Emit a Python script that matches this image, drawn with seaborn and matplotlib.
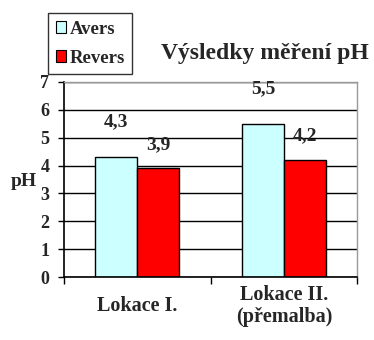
import pandas as pd
import seaborn as sns
import matplotlib.pyplot as plt

locations = ['Lokace I.', 'Lokace II.\n(přemalba)']
series = ['Avers', 'Revers']
avers = [4.3, 5.5]
revers = [3.9, 4.2]
colors = ['#CCFFFF', '#FF0000']

data = pd.DataFrame({
    'lokace': locations * 2,
    'strana': [series[0]] * 2 + [series[1]] * 2,
    'pH': avers + revers,
})

sns.set_style('white')
plt.rcParams['font.family'] = ['Liberation Serif', 'DejaVu Serif']
plt.rcParams['font.weight'] = 'bold'

fig = plt.figure(figsize=(3.74, 3.40), dpi=100)
ax = fig.add_axes([0.171, 0.185, 0.784, 0.574])

sns.barplot(data=data, x='lokace', y='pH', hue='strana', palette=colors,
            saturation=1, width=0.57, gap=0, edgecolor='black', linewidth=1,
            ax=ax, legend=False)

# value labels with comma decimal separator
offsets = {0: 35, 1: 24}
for i, cont in enumerate(ax.containers):
    for bar in cont:
        h = bar.get_height()
        ax.annotate(f'{h:.1f}'.replace('.', ','),
                    (bar.get_x() + bar.get_width() / 2, h),
                    xytext=(0, offsets[i]), textcoords='offset pixels',
                    ha='center', va='center', fontsize=14, fontweight='bold')

ax.set_ylim(0, 7)
ax.set_xlim(-0.5, 1.5)
ax.set_yticks(range(8))
ax.yaxis.grid(True, color='black', linewidth=1)
ax.set_axisbelow(True)
ax.tick_params(axis='y', length=4.5, width=1, color='black', labelsize=13, pad=6, left=True)
ax.set_xticks([0, 1])
ax.set_xticklabels(locations, fontsize=14.5, fontweight='bold', va='center',
                   linespacing=1.12)
ax.tick_params(axis='x', which='major', length=0, pad=21)
ax.set_xticks([-0.5, 0.5, 1.5], minor=True)
ax.tick_params(axis='x', which='minor', length=5, width=1, color='black', bottom=True)
for lbl in ax.get_yticklabels():
    lbl.set_fontweight('bold')

for side in ['left', 'bottom']:
    ax.spines[side].set_color('black')
    ax.spines[side].set_linewidth(1.2)
for side in ['top', 'right']:
    ax.spines[side].set_visible(True)
    ax.spines[side].set_color('#999999')
    ax.spines[side].set_linewidth(1)

ax.set_xlabel('')
ax.set_ylabel('')
fig.text(24 / 374, 1 - 182 / 340, 'pH', ha='center', va='center',
         fontsize=14, fontweight='bold')

fig.text(265 / 374, 1 - 53 / 340, 'Výsledky měření pH', ha='center', va='center',
         fontsize=17, fontweight='bold')

handles = [plt.Rectangle((0, 0), 1, 1, facecolor=c, edgecolor='black', linewidth=0.8)
           for c in colors]
leg = fig.legend(handles, series, loc='upper left', bbox_to_anchor=(48 / 374, 1 - 13 / 340),
                 frameon=True, fancybox=False, edgecolor='black', fontsize=13.5,
                 handlelength=0.55, handleheight=0.55, handletextpad=0.2,
                 borderpad=0.4, labelspacing=0.65, borderaxespad=0)
leg.get_frame().set_linewidth(1)
for t in leg.get_texts():
    t.set_fontweight('bold')

fig.savefig('out.png', dpi=100)
